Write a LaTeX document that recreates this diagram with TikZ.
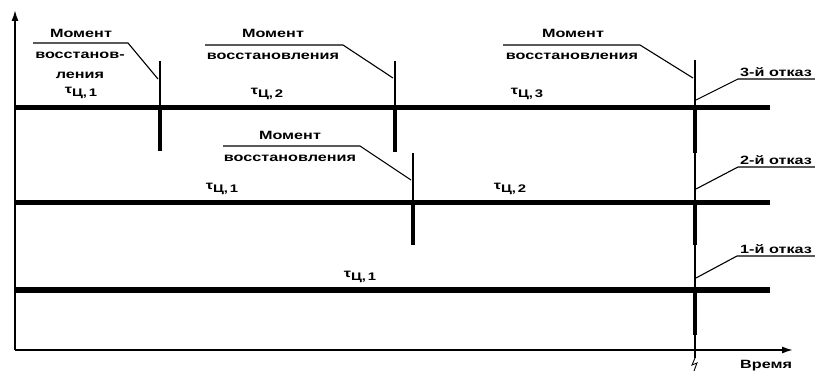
\documentclass[tikz,border=0pt]{standalone}
\usepackage{fontspec}
\setmainfont{Liberation Sans}[FakeStretch=1.35]
\usepackage{tikz}
\usetikzlibrary{arrows.meta, calc}
\tikzset{
  timeline/.style={line width=5pt},
  thinmark/.style={line width=1.6pt},
  thickmark/.style={line width=4.5pt},
  leader/.style={line width=1.1pt},
  lbl/.style={font=\fontsize{12}{13}\selectfont\bfseries, inner sep=0pt},
  taulbl/.style={font=\fontsize{12}{13}\selectfont\bfseries, inner sep=0pt}
}
\newcommand{\RecMark}[4]{
	\def\mx{#1}
	\def\mtop{#2}
	\def\mline{#3}
	\def\mbot{#4}
	\draw[thinmark] (\mx,\mtop) -- (\mx,\mline);
	\draw[thickmark] (\mx,\mline) -- (\mx,\mbot);
}
\newcommand{\TauLbl}[1]{τ\raisebox{-2.5pt}{\fontsize{11}{12}\selectfont Ц,\,#1}}

\begin{document}
\begin{tikzpicture}[x=1pt, y=-1pt, line cap=butt]
  \useasboundingbox (0,0) rectangle (815,377);

  \coordinate (O) at (15,350);
  \coordinate (Ytop) at (15,10);
  \coordinate (Xend) at (793,350);

  % axes
  \draw[line width=1.6pt, -{Latex[length=11pt,width=7pt]}] (O) -- (Ytop);
  \draw[line width=1.6pt, -{Latex[length=11pt,width=7pt]}] (O) -- (Xend);
  \node[lbl, anchor=west] (time) at (740,366) {Время};

  % three runs
  \draw[timeline] (15,108) -- (770,108);
  \draw[timeline] (15,203) -- (770,203);
  \draw[timeline] (15,290) -- (770,290);

  % recovery moments
  \RecMark{160}{61}{108}{151}
  \RecMark{395}{61}{108}{152}
  \RecMark{413}{153}{203}{245}
  \RecMark{695}{60}{108}{153}
  \RecMark{695}{153}{203}{245}
  \RecMark{695}{245}{290}{335}
  \draw[thinmark] (695,335) -- (695,358);
  \draw[line width=0.9pt] (695,358) -- (692,365) -- (697,363) -- (694,371);

  % labels of the upper run
  \node[lbl] (m1) at (81,33) {Момент};
  \node[lbl] (v1) at (80,55) {восстанов-};
  \node[lbl] (l1) at (80,75) {ления};
  \draw[leader] (33,43) -- (128,43) -- (158,79);
  \node[taulbl] (t11) at (81,93) {\TauLbl{1}};

  \node[lbl] (m2) at (273,33) {Момент};
  \node[lbl] (v2) at (273,56) {восстановления};
  \draw[leader] (205,45) -- (343,45) -- (393,78);
  \node[taulbl] (t12) at (267,94) {\TauLbl{2}};

  \node[lbl] (m3) at (573,33) {Момент};
  \node[lbl] (v3) at (572,56) {восстановления};
  \draw[leader] (503,45) -- (640,45) -- (693,78);
  \node[taulbl] (t13) at (527,94) {\TauLbl{3}};

  % labels of the middle run
  \node[lbl] (m4) at (290,135) {Момент};
  \node[lbl] (v4) at (290,158) {восстановления};
  \draw[leader] (223,146) -- (360,146) -- (411,180);
  \node[taulbl] (t21) at (222,189) {\TauLbl{1}};
  \node[taulbl] (t22) at (510,189) {\TauLbl{2}};

  % labels of the lower run
  \node[taulbl] (t31) at (360,277) {\TauLbl{1}};

  % failures
  \node[lbl, anchor=south west] (f3) at (740,77) {3-й отказ};
  \draw[leader] (696,100) -- (738,79) -- (815,79);
  \node[lbl, anchor=south west] (f2) at (740,165) {2-й отказ};
  \draw[leader] (696,189) -- (738,167) -- (815,167);
  \node[lbl, anchor=south west] (f1) at (740,254) {1-й отказ};
  \draw[leader] (696,278) -- (737,256) -- (815,256);

\end{tikzpicture}
\end{document}
